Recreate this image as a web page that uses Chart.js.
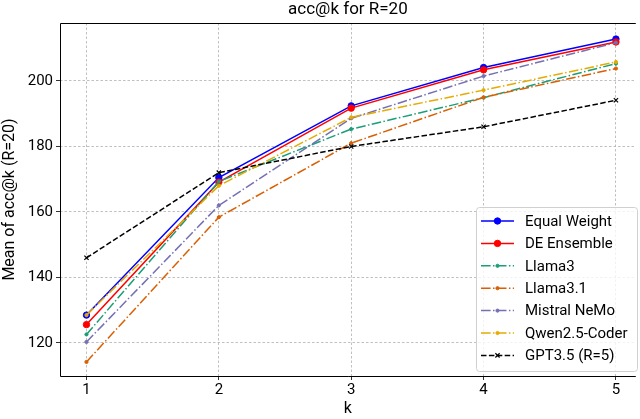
<!DOCTYPE html>
<html>
<head>
<meta charset="utf-8">
<script src="https://cdn.jsdelivr.net/npm/chart.js@4.4.1/dist/chart.umd.min.js"></script>
<style>
  html, body { margin: 0; padding: 0; background: #fff; }
  #wrap { width: 640px; height: 419px; }
</style>
</head>
<body>
<div id="wrap"><canvas id="myChart"></canvas></div>
<script>
const kValues = [1, 2, 3, 4, 5];
const equalWeight = [128.5, 170.5, 192.4, 204.1, 212.8];
const deEnsemble = [125.6, 169.1, 191.7, 203.4, 211.9];
const llama3 = [122.6, 169.3, 185.3, 194.9, 205.3];
const llama31 = [114.2, 158.4, 181.0, 195.0, 203.8];
const mistralNemo = [120.3, 162.0, 188.6, 201.5, 211.7];
const qwenCoder = [128.5, 168.0, 188.9, 197.2, 205.8];
const gpt35 = [146.0, 172.0, 180.0, 186.0, 194.1];
const yTicks = [120, 140, 160, 180, 200];

const toPoints = vals => vals.map((v, i) => ({ x: kValues[i], y: v }));
const dashDot = [9.6, 2.4, 1.5, 2.4];

function series(label, vals, color, dash, style, radius, order) {
    return {
        label: label,
        data: toPoints(vals),
        borderColor: color,
        backgroundColor: color,
        borderWidth: 1.5,
        borderDash: dash,
        pointStyle: style,
        pointRadius: radius,
        pointBorderWidth: style === 'crossRot' ? 1.2 : 1,
        pointHoverRadius: radius,
        tension: 0,
        fill: false,
        order: order
    };
}

const datasets = [
    series('Equal Weight', equalWeight, '#0000ff', [], 'circle', 3.2, 6),
    series('DE Ensemble', deEnsemble, '#ff0000', [], 'circle', 3.2, 5),
    series('Llama3', llama3, '#1b9e77', dashDot, 'circle', 1.6, 4),
    series('Llama3.1', llama31, '#d95f02', dashDot, 'circle', 1.6, 3),
    series('Mistral NeMo', mistralNemo, '#7570b3', dashDot, 'circle', 1.6, 2),
    series('Qwen2.5-Coder', qwenCoder, '#e6ab02', dashDot, 'circle', 1.6, 1),
    series('GPT3.5 (R=5)', gpt35, '#000000', [5.5, 2.4], 'crossRot', 3, 0)
];

const frameAndLegend = {
    id: 'frameAndLegend',
    afterDraw(chart) {
        const ctx = chart.ctx;
        const a = chart.chartArea;
        ctx.save();
        ctx.strokeStyle = '#000';
        ctx.lineWidth = 1;
        ctx.setLineDash([]);
        ctx.beginPath();
        ctx.moveTo(a.right, a.top + 0.5);
        ctx.lineTo(a.left + 0.5, a.top + 0.5);
        ctx.lineTo(a.left + 0.5, a.bottom + 0.5);
        ctx.lineTo(a.right, a.bottom + 0.5);
        ctx.stroke();

        // legend box, lower right
        const bx = 476, by = 207, bw = 161, bh = 164;
        ctx.beginPath();
        ctx.roundRect(bx + 0.5, by + 0.5, bw, bh, 3);
        ctx.fillStyle = 'rgba(255,255,255,0.8)';
        ctx.fill();
        ctx.strokeStyle = '#d0d0d0';
        ctx.stroke();

        ctx.font = '15px Roboto';
        ctx.textBaseline = 'middle';
        chart.data.datasets.forEach((ds, i) => {
            const y = 221 + i * 22.4;
            ctx.strokeStyle = ds.borderColor;
            ctx.lineWidth = ds.borderWidth;
            ctx.setLineDash(ds.borderDash);
            ctx.beginPath();
            ctx.moveTo(481, y);
            ctx.lineTo(514, y);
            ctx.stroke();
            ctx.setLineDash([]);
            ctx.fillStyle = ds.backgroundColor;
            ctx.lineWidth = ds.pointBorderWidth;
            Chart.helpers.drawPoint(ctx, {
                pointStyle: ds.pointStyle,
                radius: ds.pointRadius,
                rotation: 0,
                borderWidth: ds.pointBorderWidth
            }, 497.5, y);
            ctx.fillStyle = '#000';
            ctx.fillText(ds.label, 525, y + 1);
        });
        ctx.restore();
    }
};

const ctx = document.getElementById('myChart');
new Chart(ctx, {
    type: 'line',
    data: { datasets: datasets },
    plugins: [frameAndLegend],
    options: {
        responsive: true,
        maintainAspectRatio: false,
        animation: false,
        layout: { padding: { left: 0, right: 0, top: 0, bottom: 0 } },
        plugins: {
            legend: { display: false },
            tooltip: { enabled: false },
            title: {
                display: true,
                fullSize: false,
                text: 'acc@k for R=20',
                color: '#000',
                font: { family: 'Roboto', size: 17, weight: 'normal' },
                padding: { top: 0, bottom: 2.6 }
            }
        },
        scales: {
            x: {
                type: 'linear',
                min: 0.8,
                max: 5.15,
                afterBuildTicks: s => { s.ticks = kValues.map(v => ({ value: v })); },
                afterFit: s => { s.height = 43; },
                ticks: {
                    color: '#000',
                    font: { family: 'Roboto', size: 15 },
                    padding: 1,
                    maxRotation: 0
                },
                grid: {
                    color: '#b0b0b0',
                    lineWidth: 0.8,
                    tickLength: 4,
                    tickColor: '#000',
                    drawTicks: true
                },
                border: { display: false, dash: [2.5, 2] },
                title: {
                    display: true,
                    text: 'k',
                    color: '#000',
                    font: { family: 'Roboto', size: 16 },
                    padding: { top: 0, bottom: 0 }
                }
            },
            y: {
                type: 'linear',
                min: 109.9,
                max: 217.7,
                afterBuildTicks: s => { s.ticks = yTicks.map(v => ({ value: v })); },
                afterFit: s => { s.width = 60; },
                ticks: {
                    color: '#000',
                    font: { family: 'Roboto', size: 15 },
                    padding: 3
                },
                grid: {
                    color: '#b0b0b0',
                    lineWidth: 0.8,
                    tickLength: 4,
                    tickColor: '#000'
                },
                border: { display: false, dash: [2.5, 2] },
                title: {
                    display: true,
                    text: 'Mean of acc@k (R=20)',
                    color: '#000',
                    font: { family: 'Roboto', size: 16 },
                    padding: { top: 0, bottom: 1 }
                }
            }
        }
    }
});
</script>
</body>
</html>
